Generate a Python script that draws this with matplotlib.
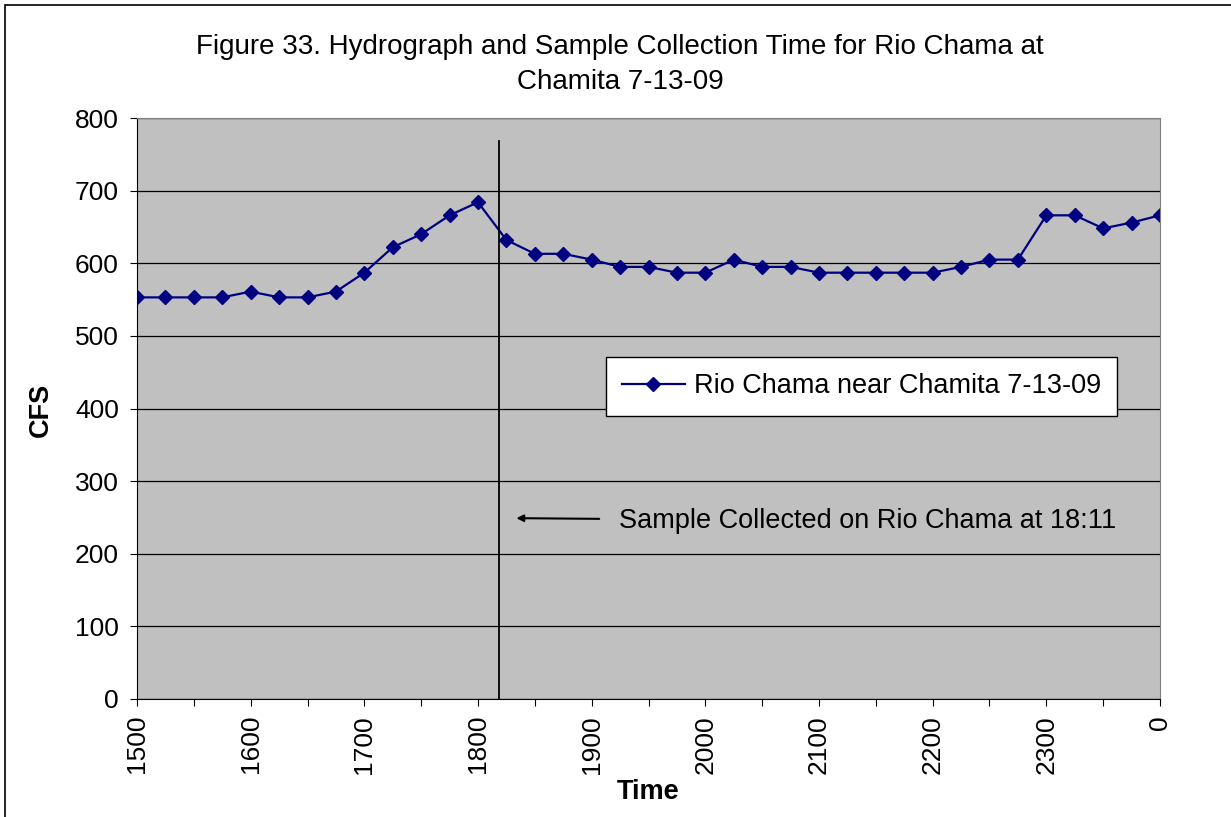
import matplotlib
matplotlib.use('Agg')
from matplotlib import pyplot as plt
from matplotlib.patches import Rectangle

plt.rcParams['font.family'] = ['Liberation Sans', 'DejaVu Sans']

# 15-minute readings, 15:00 to 24:00
time_labels = ['1500', '1515', '1530', '1545', '1600', '1615', '1630', '1645',
               '1700', '1715', '1730', '1745', '1800', '1815', '1830', '1845',
               '1900', '1915', '1930', '1945', '2000', '2015', '2030', '2045',
               '2100', '2115', '2130', '2145', '2200', '2215', '2230', '2245',
               '2300', '2315', '2330', '2345', '0']
cfs = [553, 553, 553, 553, 561, 553, 553, 561,
       587, 622, 640, 666, 684, 632, 613, 613,
       605, 595, 595, 587, 587, 605, 595, 595,
       587, 587, 587, 587, 587, 595, 605, 605,
       666, 666, 648, 656, 666]
sample_index = 12 + 11 / 15  # 18:11
y_ticks = [0, 100, 200, 300, 400, 500, 600, 700, 800]

W, H = 1231, 817
fig = plt.figure(figsize=(W / 100, H / 100), dpi=100)
fig.patches.append(Rectangle((5 / W, -0.1), 1.2, (H - 5) / H + 0.1, transform=fig.transFigure,
                             fill=False, edgecolor='black', linewidth=1.2))

ax = fig.add_axes([137 / W, (H - 699) / H, (1160 - 137) / W, (699 - 118) / H])
ax.set_facecolor('#C0C0C0')

x = list(range(len(cfs)))
ax.plot(x, cfs, color='#000080', lw=1.6, marker='D', markersize=7,
        label='Rio Chama near Chamita 7-13-09')

# sample collection line
ax.plot([sample_index, sample_index], [0, 768], color='black', lw=1.3)
ax.annotate('Sample Collected on Rio Chama at 18:11', xy=(13.35, 249), xytext=(16.95, 245),
            fontsize=19.5, va='center', ha='left',
            arrowprops=dict(arrowstyle='-|>', color='black', lw=1.5, mutation_scale=10,
                            shrinkA=12, shrinkB=0))

ax.set_xlim(0, len(cfs) - 1)
ax.set_ylim(0, 800)
ax.set_yticks(y_ticks)
ax.yaxis.grid(True, color='black', lw=0.9)
ax.set_axisbelow(True)

xt = list(range(0, len(cfs), 2))
ax.set_xticks(xt)
ax.set_xticklabels([time_labels[i] if i % 4 == 0 else '' for i in xt], rotation=90)
ax.tick_params(axis='x', direction='out', length=5, pad=6.5, labelsize=19)
ax.tick_params(axis='y', direction='out', length=5, pad=8, labelsize=19)

for side in ['top', 'right']:
    ax.spines[side].set_color('#808080')
for side in ['left', 'bottom']:
    ax.spines[side].set_color('black')

ax.set_xlabel('Time', fontsize=19.5, fontweight='bold', labelpad=0)
ax.set_ylabel('CFS', fontsize=19.5, fontweight='bold', labelpad=12)
ax.xaxis.set_label_coords((648 - 137) / (1160 - 137), -(779 - 699) / (699 - 118))
ax.yaxis.set_label_coords(-(137 - 54) / (1160 - 137), (699 - 410) / (699 - 118))

leg = ax.legend(loc='upper left', bbox_to_anchor=(606 / W, (H - 357) / H),
                bbox_transform=fig.transFigure, fontsize=19.5, frameon=True, fancybox=False,
                framealpha=1, edgecolor='black', handlelength=2.3, handletextpad=0.35,
                borderpad=0.6, borderaxespad=0)
leg.get_frame().set_linewidth(1.0)

fig.text(620 / W, (H - 47) / H, 'Figure 33. Hydrograph and Sample Collection Time for Rio Chama at',
         ha='center', va='center', fontsize=20)
fig.text(620 / W, (H - 82) / H, 'Chamita 7-13-09', ha='center', va='center', fontsize=20)

fig.savefig('out.png', dpi=100)
